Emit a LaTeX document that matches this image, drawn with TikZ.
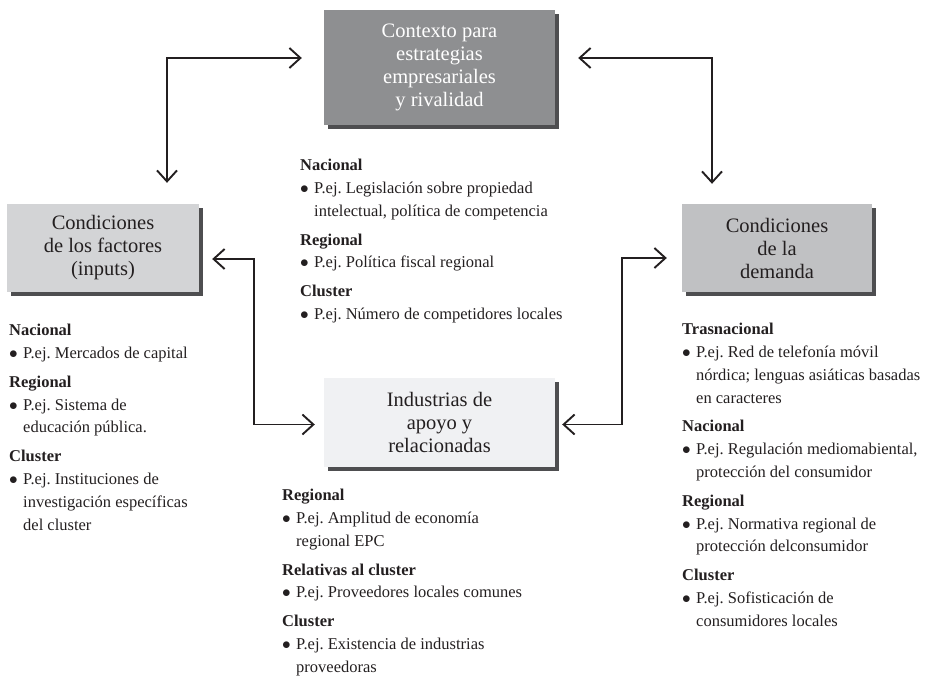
\documentclass[tikz,border=0pt]{standalone}
\usepackage{fontspec}
\setmainfont{Liberation Serif}
\usetikzlibrary{arrows.meta,shadows}
\definecolor{ink}{HTML}{231F20}
\definecolor{shade}{HTML}{4E4E50}
\definecolor{dark}{HTML}{8E8F91}
\definecolor{mid}{HTML}{C0C1C3}
\definecolor{pale}{HTML}{D3D4D6}
\definecolor{faint}{HTML}{F0F1F3}
\newcommand{\bul}{\makebox[14pt][l]{$\bullet$}}
\newcommand{\ind}{\hspace*{14pt}}
\frenchspacing
\begin{document}
\begin{tikzpicture}[x=1pt, y=-1pt,
    box/.style={rectangle, inner sep=0pt, align=center, text=ink, font={\fontsize{20.5}{23}\selectfont},
        general shadow={fill=shade, shadow xshift=4pt, shadow yshift=-4pt}},
    info/.style={anchor=north west, inner sep=0pt, align=left, text=ink, font={\fontsize{16.5}{22.8}\selectfont}},
    link/.style={draw=ink, line width=1.9pt, {Straight Barb[length=11pt, width=20pt]}-{Straight Barb[length=11pt, width=20pt]}}
]
\useasboundingbox (0,0) rectangle (936,680);

\node[box, fill=dark, text=white, minimum width=231pt, minimum height=115pt] (ctx) at (439.5,67.5)
    {Contexto para\\estrategias\\empresariales\\y rivalidad};
\node[box, fill=pale, minimum width=192pt, minimum height=88pt] (fact) at (103,248)
    {Condiciones\\de los factores\\(inputs)};
\node[box, fill=mid, minimum width=190pt, minimum height=88pt] (dem) at (777,248)
    {Condiciones\\de la\\demanda};
\node[box, fill=faint, minimum width=231pt, minimum height=89pt] (ind) at (439.5,422.5)
    {Industrias de\\apoyo y\\relacionadas};

\node[info] (ctxinfo) at (300,159) {\textbf{Nacional}\\
    \bul P.ej. Legislación sobre propiedad\\
    \ind intelectual, política de competencia\\[6pt]
    \textbf{Regional}\\
    \bul P.ej. Política fiscal regional\\[6pt]
    \textbf{Cluster}\\
    \bul P.ej. Número de competidores locales};
\node[info] (factinfo) at (9,324) {\textbf{Nacional}\\
    \bul P.ej. Mercados de capital\\[6pt]
    \textbf{Regional}\\
    \bul P.ej. Sistema de\\
    \ind educación pública.\\[6pt]
    \textbf{Cluster}\\
    \bul P.ej. Instituciones de\\
    \ind investigación específicas\\
    \ind del cluster};
\node[info] (deminfo) at (682,323) {\textbf{Trasnacional}\\
    \bul P.ej. Red de telefonía móvil\\
    \ind nórdica; lenguas asiáticas basadas\\
    \ind en caracteres\\[6pt]
    \textbf{Nacional}\\
    \bul P.ej. Regulación mediomabiental,\\
    \ind protección del consumidor\\[6pt]
    \textbf{Regional}\\
    \bul P.ej. Normativa regional de\\
    \ind protección delconsumidor\\[6pt]
    \textbf{Cluster}\\
    \bul P.ej. Sofisticación de\\
    \ind consumidores locales};
\node[info] (indinfo) at (282,489) {\textbf{Regional}\\
    \bul P.ej. Amplitud de economía\\
    \ind regional EPC\\[6pt]
    \textbf{Relativas al cluster}\\
    \bul P.ej. Proveedores locales comunes\\[6pt]
    \textbf{Cluster}\\
    \bul P.ej. Existencia de industrias\\
    \ind proveedoras};

\draw[link, shorten <=22pt, shorten >=21pt] ([yshift=9.5pt]ctx.west) -| ([xshift=64pt]fact.north);
\draw[link, shorten <=23pt, shorten >=20pt] ([yshift=9.5pt]ctx.east) -| ([xshift=-65pt]dem.north);
\draw[link, shorten <=13pt, shorten >=9pt] ([yshift=-11pt]fact.east) -| ([xshift=-70pt,yshift=-2pt]ind.west) -- ([yshift=-2pt]ind.west);
\draw[link, shorten <=15pt, shorten >=7pt] ([yshift=-10pt]dem.west) -| ([xshift=67pt,yshift=-2pt]ind.east) -- ([yshift=-2pt]ind.east);
\end{tikzpicture}
\end{document}
